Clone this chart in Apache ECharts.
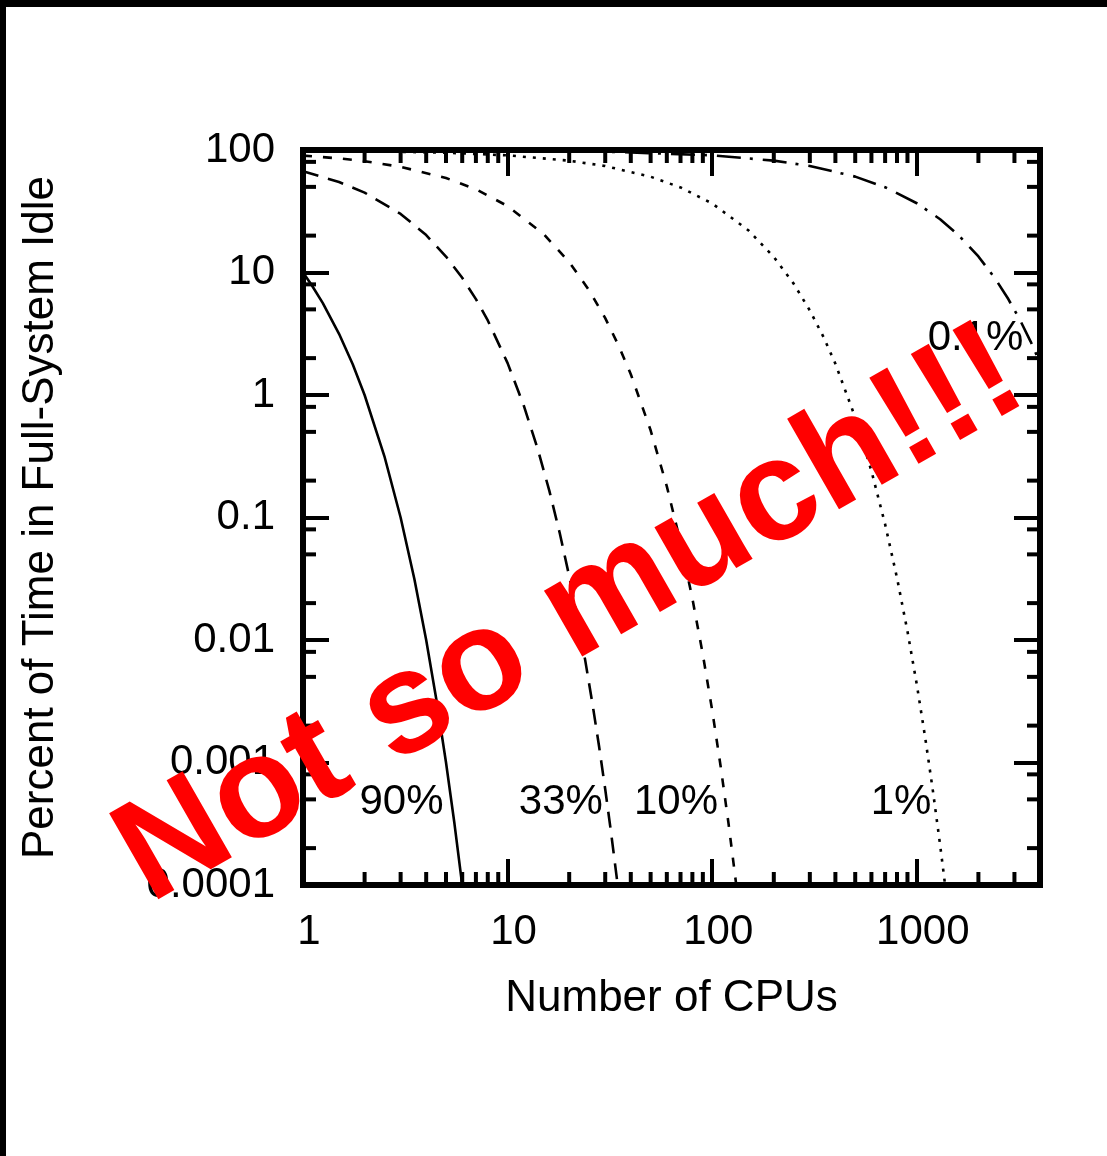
<!DOCTYPE html>
<html><head><meta charset="utf-8">
<script src="https://cdn.jsdelivr.net/npm/echarts@6/dist/echarts.min.js"></script>
<style>html,body{margin:0;padding:0;background:#fff;} #c{width:1107px;height:1156px;}</style>
</head><body><div id="c"></div>
<script>
// ---- tick labels ----
const xTickLabels = ['1', '10', '100', '1000'];
const yTickLabels = ['0.0001', '0.001', '0.01', '0.1', '1', '10', '100'];
const xMinorTicks = [2,3,4,5,6,7,8,9,20,30,40,50,60,70,80,90,200,300,400,500,600,700,800,900,2000,3000];
const yMinorTicks = [0.0002,0.0005,0.0008,0.002,0.005,0.008,0.02,0.05,0.08,0.2,0.5,0.8,2,5,8,20,50,80];

// ---- series values ----
const u90X = [1, 1.1, 1.25, 1.5, 1.75, 2, 2.5, 3, 3.5, 4, 4.5, 5, 5.5, 6];
const u90Y = [10, 7.94, 5.62, 3.16, 1.78, 1, 0.316, 0.1, 0.0316, 0.01, 0.00316, 0.001, 0.000316, 0.0001];

const u33X = [1, 1.5, 2, 3, 4, 5, 6, 7, 8, 10, 12, 14, 16, 18, 20, 22, 24, 26, 28, 30, 32, 34, 34.5];
const u33Y = [67, 54.8, 44.9, 30.1, 20.2, 13.5, 9.05, 6.06, 4.06, 1.82, 0.818, 0.367, 0.165, 0.074, 0.0332, 0.0149, 0.00669, 0.003, 0.00135, 0.000605, 0.000272, 0.000122, 0.0001];

const u10X = [1, 1.5, 2, 3, 5, 7, 10, 15, 20, 25, 30, 35, 40, 50, 60, 70, 80, 90, 100, 110, 120, 131];
const u10Y = [90, 85.4, 81, 72.9, 59.05, 47.83, 34.87, 20.59, 12.16, 7.18, 4.24, 2.5, 1.478, 0.515, 0.1797, 0.0627, 0.0218, 0.00761, 0.00266, 0.000925, 0.000323, 0.000101];

const u1X = [1, 2, 5, 10, 20, 30, 50, 70, 100, 150, 200, 250, 300, 350, 400, 500, 600, 700, 800, 900, 1000, 1100, 1200, 1300, 1375];
const u1Y = [99, 98.01, 95.1, 90.44, 81.79, 73.97, 60.5, 49.48, 36.6, 22.15, 13.4, 8.11, 4.9, 2.97, 1.8, 0.657, 0.24, 0.0881, 0.0322, 0.0118, 0.00432, 0.00158, 0.000578, 0.000212, 0.0001];

const u01X = [1, 10, 30, 100, 200, 300, 500, 700, 1000, 1300, 1600, 2000, 2400, 2800, 3200, 3600, 4000];
const u01Y = [99.9, 99.0, 97.04, 90.48, 81.86, 74.07, 60.62, 49.64, 36.77, 27.22, 20.17, 13.52, 9.06, 6.07, 4.07, 2.73, 1.83];

// ---- curve annotations ----
const curveLabelNames = ['90%', '33%', '10%', '1%', '0.1%'];
const curveLabelX = [3.03, 18.2, 66.5, 837, 1936];
const curveLabelY = [0.00047, 0.00047, 0.00047, 0.00047, 2.9];

const FONT = 'Liberation Sans';
function pairs(xs, ys) { return xs.map((x, i) => [x, ys[i]]); }
function expIdx(v) { const e = Math.log10(v); const r = Math.round(e); return Math.abs(e - r) < 1e-6 ? r : null; }

const tickStyle = { show: true, inside: true, length: 26, lineStyle: { color: '#000', width: 4 } };
const MINOR = 13;

function xMinorRender(params, api) {
  const cs = params.coordSys;
  const p = api.coord([api.value(0), api.value(1)]);
  const st = { stroke: '#000', lineWidth: 4 };
  return { type: 'group', children: [
    { type: 'line', shape: { x1: p[0], y1: cs.y + cs.height, x2: p[0], y2: cs.y + cs.height - MINOR }, style: st },
    { type: 'line', shape: { x1: p[0], y1: cs.y, x2: p[0], y2: cs.y + MINOR }, style: st }
  ]};
}
function yMinorRender(params, api) {
  const cs = params.coordSys;
  const p = api.coord([api.value(0), api.value(1)]);
  const st = { stroke: '#000', lineWidth: 4 };
  return { type: 'group', children: [
    { type: 'line', shape: { x1: cs.x, y1: p[1], x2: cs.x + MINOR, y2: p[1] }, style: st },
    { type: 'line', shape: { x1: cs.x + cs.width, y1: p[1], x2: cs.x + cs.width - MINOR, y2: p[1] }, style: st }
  ]};
}

function lineSeries(name, xs, ys, dash) {
  return { type: 'line', name: name, data: pairs(xs, ys), symbol: 'none', showSymbol: false, clip: true,
    lineStyle: { color: '#000', width: 2.6, type: dash }, z: 5, silent: true };
}

const chart = echarts.init(document.getElementById('c'), null, { renderer: 'canvas' });
const option = {
  animation: false,
  backgroundColor: '#fff',
  grid: { left: 303, right: 67, top: 150, bottom: 271, show: true, borderColor: '#000', borderWidth: 6, backgroundColor: 'transparent' },
  xAxis: [
    { type: 'log', logBase: 10, min: 1, max: 4000, position: 'bottom',
      axisLine: { show: false }, splitLine: { show: false }, axisTick: tickStyle,
      axisLabel: { show: true, margin: 26, fontSize: 42, fontFamily: FONT, color: '#000', padding: [0, 0, 0, 12],
        formatter: v => { const r = expIdx(v); return r === null ? '' : (xTickLabels[r] || ''); } },
      name: 'Number of CPUs', nameLocation: 'middle', nameGap: 92,
      nameTextStyle: { fontSize: 44, fontFamily: FONT, color: '#000' } },
    { type: 'log', logBase: 10, min: 1, max: 4000, position: 'top',
      axisLine: { show: false }, splitLine: { show: false }, axisTick: tickStyle, axisLabel: { show: false } }
  ],
  yAxis: [
    { type: 'log', logBase: 10, min: 0.0001, max: 100, position: 'left',
      axisLine: { show: false }, splitLine: { show: false }, axisTick: tickStyle,
      axisLabel: { show: true, margin: 28, fontSize: 42, fontFamily: FONT, color: '#000',
        formatter: v => { const r = expIdx(v); return r === null ? '' : (yTickLabels[r + 4] || ''); } },
      name: 'Percent of Time in Full-System Idle', nameLocation: 'middle', nameGap: 240,
      nameTextStyle: { fontSize: 44, fontFamily: FONT, color: '#000' } },
    { type: 'log', logBase: 10, min: 0.0001, max: 100, position: 'right',
      axisLine: { show: false }, splitLine: { show: false }, axisTick: tickStyle, axisLabel: { show: false } }
  ],
  series: [
    lineSeries('90%', u90X, u90Y, 'solid'),
    lineSeries('33%', u33X, u33Y, [16, 10]),
    lineSeries('10%', u10X, u10Y, [9, 11]),
    lineSeries('1%', u1X, u1Y, [3, 7]),
    lineSeries('0.1%', u01X, u01Y, [24, 9, 3, 10]),
    { type: 'custom', renderItem: xMinorRender, data: xMinorTicks.map(v => [v, 1]), encode: { x: 0, y: 1 }, silent: true, z: 6 },
    { type: 'custom', renderItem: yMinorRender, data: yMinorTicks.map(v => [1, v]), encode: { x: 0, y: 1 }, silent: true, z: 6 },
    { type: 'scatter', symbolSize: 1, itemStyle: { color: 'transparent', opacity: 1 }, silent: true, z: 7,
      data: curveLabelNames.map((n, i) => ({ name: n, value: [curveLabelX[i], curveLabelY[i]] })),
      label: { show: true, position: 'inside', formatter: '{b}', fontSize: 42, fontFamily: FONT, color: '#000', opacity: 1 } }
  ],
  graphic: [
    { type: 'rect', shape: { x: 0, y: 0, width: 1107, height: 7 }, style: { fill: '#000' }, z: 200 },
    { type: 'rect', shape: { x: 0, y: 0, width: 6, height: 1156 }, style: { fill: '#000' }, z: 200 },
    { type: 'text', x: 571, y: 617, rotation: 29.8 * Math.PI / 180, z: 300,
      style: { text: 'Not so much!!!', fill: '#ff0000', font: 'bold 144px "Liberation Sans"',
        textAlign: 'center', textVerticalAlign: 'middle', align: 'center', verticalAlign: 'middle' } }
  ]
};
chart.setOption(option);
</script>
</body></html>
